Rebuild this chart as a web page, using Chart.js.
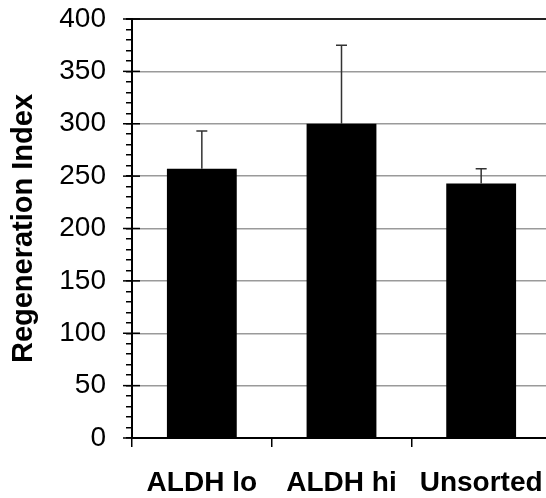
<!DOCTYPE html>
<html>
<head>
<meta charset="utf-8">
<script src="https://cdn.jsdelivr.net/npm/chart.js@4.4.1/dist/chart.umd.min.js"></script>
<style>
  html, body { margin: 0; padding: 0; background: #fff; overflow: hidden; }
  /* the original figure is cropped a little on the right */
  #wrap { width: 551px; height: 498px; }
</style>
</head>
<body>
<div id="wrap"><canvas id="chart"></canvas></div>
<script>
const categories = ['ALDH lo', 'ALDH hi', 'Unsorted']
const means = [257, 300, 243]
const errors = [36, 75, 14]
const yTicks = [0, 50, 100, 150, 200, 250, 300, 350, 400]

const FONT = "'Liberation Sans', Arial, Helvetica, sans-serif"

// upward-only error bars, drawn on top of the bars
const errorBars = {
  id: 'errorBars',
  afterDatasetsDraw(chart) {
    const { ctx, scales: { x, y } } = chart
    ctx.save()
    ctx.strokeStyle = '#333'
    ctx.lineWidth = 1.5
    means.forEach((m, i) => {
      const px = x.getPixelForValue(i)
      const base = y.getPixelForValue(m)
      const top = y.getPixelForValue(m + errors[i])
      ctx.beginPath()
      ctx.moveTo(px, base)
      ctx.lineTo(px, top)
      ctx.moveTo(px - 5.5, top)
      ctx.lineTo(px + 5.5, top)
      ctx.stroke()
    })
    ctx.restore()
  },
}

// major y ticks cross the axis line (minor ones stay outside)
const majorTicks = {
  id: 'majorTicks',
  beforeDatasetsDraw(chart) {
    const { ctx, scales: { y } } = chart
    const x0 = y.right
    ctx.save()
    ctx.strokeStyle = '#000'
    ctx.lineWidth = 1.5
    yTicks.forEach(v => {
      const py = y.getPixelForValue(v)
      ctx.beginPath()
      ctx.moveTo(x0 - 9, py)
      ctx.lineTo(x0 + 8, py)
      ctx.stroke()
    })
    ctx.restore()
  },
}

new Chart(document.getElementById('chart'), {
  type: 'bar',
  data: {
    labels: categories,
    datasets: [{
      data: means,
      backgroundColor: '#000',
      borderWidth: 0,
      categoryPercentage: 0.5,
      barPercentage: 1,
    }],
  },
  plugins: [majorTicks, errorBars],
  options: {
    responsive: true,
    maintainAspectRatio: false,
    animation: false,
    layout: { padding: 0 },
    plugins: {
      legend: { display: false },
      tooltip: { enabled: false },
    },
    scales: {
      x: {
        afterFit(scale) {
          scale.height = 60
          scale.paddingLeft = 0
          scale.paddingRight = 0
        },
        border: { color: '#000', width: 2 },
        grid: { drawOnChartArea: false, color: '#000', tickLength: 9, lineWidth: 1.5 },
        ticks: {
          color: '#000',
          padding: 19,
          maxRotation: 0,
          autoSkip: false,
          font: { family: FONT, size: 28, weight: 'bold' },
        },
      },
      y: {
        min: 0,
        max: 400,
        afterFit(scale) {
          scale.width = 132
          scale.paddingTop = 19
          scale.paddingBottom = 0
        },
        border: { color: '#000', width: 2 },
        grid: {
          color: c => c.tick.value === 400 ? '#222' : (yTicks.includes(c.tick.value) ? '#9a9a9a' : 'rgba(0,0,0,0)'),
          lineWidth: c => c.tick.value === 400 ? 2 : 1.5,
          tickColor: '#000',
          tickLength: 6,
        },
        ticks: {
          stepSize: 10,
          autoSkip: false,
          maxTicksLimit: 100,
          padding: 20,
          color: '#000',
          font: { family: FONT, size: 28 },
          callback: v => yTicks.includes(v) ? v : '',
        },
        title: {
          display: true,
          text: 'Regeneration Index',
          color: '#000',
          font: { family: FONT, size: 29, weight: 'bold' },
          padding: { top: 7, bottom: 0 },
        },
      },
    },
  },
})
</script>
</body>
</html>
